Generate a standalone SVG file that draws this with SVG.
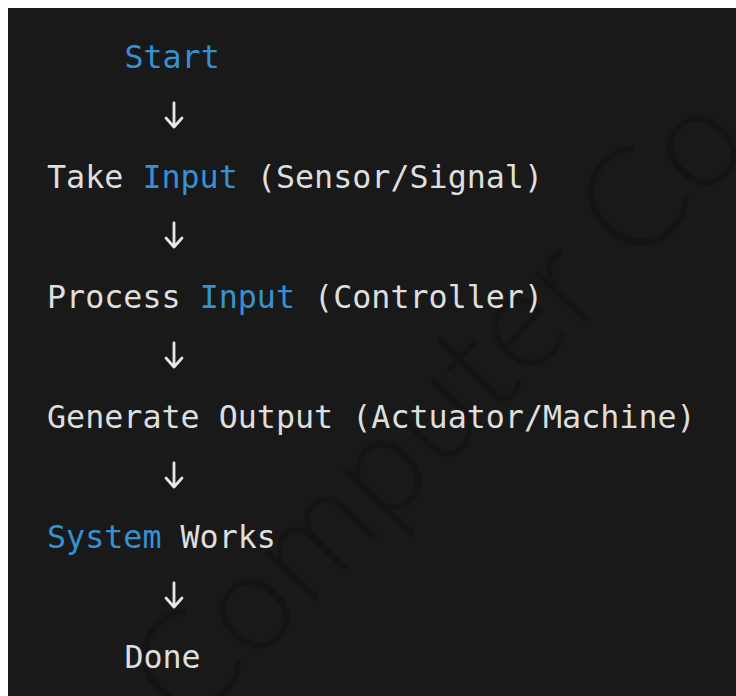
<svg xmlns="http://www.w3.org/2000/svg" width="736" height="696" viewBox="0 0 736 696">
<style>
.t{font-family:"DejaVu Sans Mono","Liberation Mono",monospace;font-size:31.7px;fill:#dedede}
.k{fill:#3592d2}
.wm{font-family:Lato,"Open Sans",sans-serif;font-weight:300;font-size:140px;fill:#141414}
.ar{fill:none;stroke:#e6e6e6;stroke-width:2.8;stroke-linecap:round;stroke-linejoin:round}
</style>
<defs>
<clipPath id="panel"><rect x="8" y="8" width="728" height="688"/></clipPath>
</defs>
<rect x="0" y="0" width="736" height="696" fill="#ffffff"/>
<rect x="8" y="8" width="728" height="688" fill="#191919"/>
<g clip-path="url(#panel)">
<text class="wm" x="188" y="733" transform="rotate(-46 188 733)">Computer Co</text>
</g>
<g id="connectors">
<path class="ar" d="M174 103 V127 M166 118 L174 127 L182 118"/>
<path class="ar" d="M174 223 V247 M166 238 L174 247 L182 238"/>
<path class="ar" d="M174 343 V367 M166 358 L174 367 L182 358"/>
<path class="ar" d="M174 463 V487 M166 478 L174 487 L182 478"/>
<path class="ar" d="M174 583 V607 M166 598 L174 607 L182 598"/>
</g>
<g id="start"><text class="t" x="124.4" y="68"><tspan class="k">Start</tspan></text></g>
<g id="take-input"><text class="t" x="47" y="188" xml:space="preserve">Take <tspan class="k">Input</tspan> (Sensor/Signal)</text></g>
<g id="process-input"><text class="t" x="47" y="308" xml:space="preserve">Process <tspan class="k">Input</tspan> (Controller)</text></g>
<g id="generate-output"><text class="t" x="47" y="428">Generate Output (Actuator/Machine)</text></g>
<g id="system-works"><text class="t" x="47" y="548" xml:space="preserve"><tspan class="k">System</tspan> Works</text></g>
<g id="done"><text class="t" x="124.4" y="668">Done</text></g>
</svg>
